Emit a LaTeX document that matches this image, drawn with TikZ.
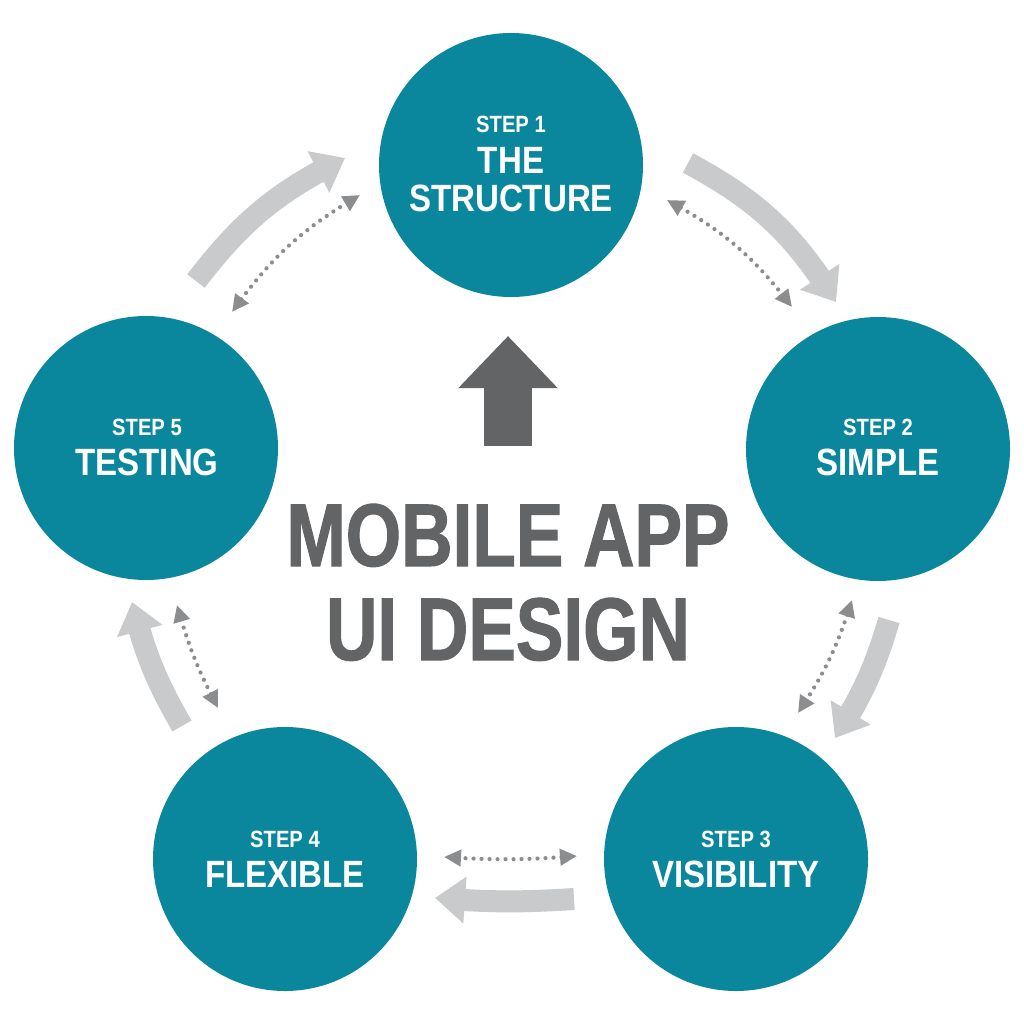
\documentclass[tikz,border=0pt]{standalone}
\usepackage{fontspec}
\setmainfont{Liberation Sans}
\newfontfamily\titlefont[FakeStretch=0.80,FakeBold=1.2]{Liberation Sans}
\newfontfamily\namefont[FakeStretch=0.87]{Liberation Sans}
\newfontfamily\stepfont[FakeStretch=0.86]{Liberation Sans}
\usetikzlibrary{arrows.meta,bending}
\definecolor{teal1}{HTML}{0B879D}
\definecolor{lgray}{HTML}{C9CACB}
\definecolor{dgray}{HTML}{636466}
\definecolor{mgray}{HTML}{8C8D8F}
\tikzset{
  stepcircle/.style={circle, fill=teal1, minimum size=264pt, inner sep=0pt},
  steplabel/.style={text=white, anchor=base, inner sep=0pt, font=\stepfont\bfseries\fontsize{23.5}{24}\selectfont},
  stepname/.style={text=white, anchor=base, inner sep=0pt, font=\namefont\bfseries\fontsize{38}{40}\selectfont},
  titletext/.style={text=dgray, anchor=base, inner sep=0pt, font=\titlefont\bfseries\fontsize{89}{90}\selectfont},
  flow/.style={draw=lgray, line width=22pt, -{Triangle[width=45pt,length=30pt]}},
  dots/.style={draw=mgray, line width=4.2pt, line cap=round, dash pattern=on 0pt off 8pt,
    {Triangle[width=16pt,length=17pt]}-{Triangle[width=16pt,length=17pt]}},
  uparrow/.style={draw=dgray, line width=48pt, -{Triangle[width=96pt,length=52pt]}}
}
\begin{document}
\begin{tikzpicture}[x=1pt,y=1pt]
\useasboundingbox (0,0) rectangle (1024,-1024);
\fill[white] (0,0) rectangle (1024,-1024);

% circles
\node[stepcircle] (s1) at (511,-165) {};
\node[stepcircle] (s2) at (878,-449) {};
\node[stepcircle] (s3) at (736,-859) {};
\node[stepcircle] (s4) at (285,-859) {};
\node[stepcircle] (s5) at (146,-448) {};

% circle texts
\node[steplabel] (s1a) at (511,-133) {STEP 1};
\node[stepname]  (s1b) at (511,-174) {THE};
\node[stepname]  (s1c) at (511,-212) {STRUCTURE};
\node[steplabel] (s2a) at (878,-435) {STEP 2};
\node[stepname]  (s2b) at (878,-475) {SIMPLE};
\node[steplabel] (s3a) at (736,-847) {STEP 3};
\node[stepname]  (s3b) at (736,-887) {VISIBILITY};
\node[steplabel] (s4a) at (285,-847) {STEP 4};
\node[stepname]  (s4b) at (285,-887) {FLEXIBLE};
\node[steplabel] (s5a) at (147,-435) {STEP 5};
\node[stepname]  (s5b) at (147,-475) {TESTING};

% title
\node[titletext] (t1) at (508,-566) {MOBILE APP};
\node[titletext] (t2) at (508,-660) {UI DESIGN};

% central up arrow
\coordinate (u0) at (508,-446);
\coordinate (u1) at (508,-336);
\draw[uparrow] (u0) -- (u1);

% flow arrows
\coordinate (a1s) at (196,-281); \coordinate (a1e) at (345,-158);
\coordinate (a2s) at (688,-163); \coordinate (a2e) at (836,-302);
\coordinate (a3s) at (889,-620); \coordinate (a3e) at (835,-738);
\coordinate (a4s) at (574,-899); \coordinate (a4e) at (435,-898);
\coordinate (a5s) at (182,-726); \coordinate (a5e) at (132,-602);
\draw[flow] (a1s) to[bend left=13] (a1e);
\draw[flow] (a2s) to[bend left=15] (a2e);
\draw[flow] (a3s) to[bend left=8] (a3e);
\draw[flow] (a4s) to[bend left=4] (a4e);
\draw[flow] (a5s) to[bend left=8] (a5e);

% dotted double arrows
\coordinate (d1s) at (232,-312); \coordinate (d1e) at (360,-195);
\coordinate (d2s) at (667,-200); \coordinate (d2e) at (792,-307);
\coordinate (d3s) at (852,-600); \coordinate (d3e) at (798,-713);
\coordinate (d4s) at (577,-856); \coordinate (d4e) at (444,-857);
\coordinate (d5s) at (218,-708); \coordinate (d5e) at (177,-605);
\draw[dots] (d1s) to[bend left=12] (d1e);
\draw[dots] (d2s) to[bend left=12] (d2e);
\draw[dots] (d3s) to[bend left=8] (d3e);
\draw[dots] (d4s) to[bend left=4] (d4e);
\draw[dots] (d5s) to[bend left=6] (d5e);
\end{tikzpicture}
\end{document}
